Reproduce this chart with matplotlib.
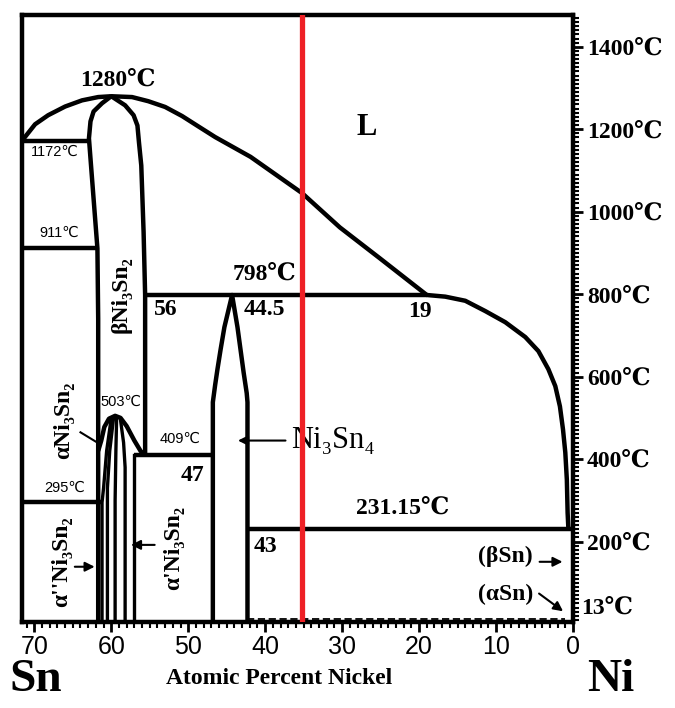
import matplotlib.pyplot as plt
import numpy as np

# --- phase boundaries (at.% Ni, temperature in C) ---
liq_left_x = [71.6, 69.9, 68.2, 66.0, 63.8, 61.7, 60.0, 57.3, 55.2, 53.0, 50.8,
              48.7, 46.5, 41.9, 35.2, 30.3, 25.1, 19.0]
liq_left_t = [1172, 1212, 1234, 1255, 1270, 1278, 1280, 1278, 1268, 1254, 1232,
              1207, 1181, 1133, 1045, 962, 887, 798]
liq_right_x = [19.0, 16.6, 14.0, 11.4, 8.8, 6.2, 4.5, 3.2, 2.3, 1.7, 1.3, 1.0,
               0.8, 0.7, 0.6]
liq_right_t = [798, 794, 784, 759, 732, 696, 662, 618, 577, 528, 472, 416,
               350, 270, 231]

beta_left_x = [60.0, 61.2, 62.3, 62.7, 62.9, 62.7, 62.3, 61.8, 61.7, 61.7]
beta_left_t = [1280, 1263, 1243, 1219, 1178, 1129, 1032, 911, 740, 5]
beta_right_x = [60.0, 58.2, 57.1, 56.6, 56.4, 56.1, 55.8, 55.6, 55.6]
beta_right_t = [1280, 1258, 1234, 1209, 1168, 1112, 951, 798, 409]

dome_x = [61.7, 61.3, 60.9, 60.3, 59.5, 58.8, 58.0, 57.0, 56.2, 55.6]
dome_t = [420, 445, 478, 498, 505, 500, 480, 445, 420, 409]
alpha_lines = [
    ([60.0, 60.6, 61.0, 61.2, 61.2], [500, 420, 330, 295, 5]),
    ([59.7, 60.2, 60.5, 60.5], [500, 420, 330, 5]),
    ([59.3, 59.4, 59.5, 59.5], [503, 420, 300, 5]),
    ([58.8, 58.4, 58.2, 58.2], [495, 440, 380, 5]),
    ([57.1, 57.1], [409, 5]),
]

ni3sn4_x = [46.8, 46.8, 46.5, 46.2, 45.8, 45.3, 44.3, 43.6, 43.2, 42.8, 42.4,
            42.3, 42.3]
ni3sn4_t = [5, 538, 580, 618, 665, 720, 798, 720, 665, 610, 560, 538, 5]

# isotherms: (temperature, x from, x to)
isotherms = [(1172, 71.6, 62.9), (911, 71.6, 61.8), (798, 55.6, 19.0),
             (409, 57.1, 46.8), (295, 71.6, 61.2), (231.15, 42.3, 0.0)]
dashed_t, dashed_x0, dashed_x1 = 13, 42.3, 1.0
red_x = 35.2

# labels
bold_labels = [("1280℃", 59.2, 1319), ("L", 26.8, 1204), ("798℃", 40.1, 849),
               ("56", 52.9, 762), ("44.5", 40.1, 762), ("19", 19.9, 759),
               ("47", 49.4, 360), ("231.15℃", 22.1, 282), ("43", 40.0, 188),
               ("(βSn)", 8.8, 163), ("(αSn)", 8.8, 71)]
small_labels = [("1172℃", 67.4, 1146), ("911℃", 66.8, 949), ("503℃", 58.7, 540),
                ("409℃", 51.0, 448), ("295℃", 66.1, 331)]
phase_labels = [("βNi₃Sn₂", 58.7, 798), ("αNi₃Sn₂", 66.2, 494),
                ("α''Ni₃Sn₂", 66.4, 151), ("α'Ni₃Sn₂", 51.9, 185)]
arrows = [((37.0, 445), (43.9, 445)), ((65.1, 139), (61.8, 139)),
          ((54.0, 192), (57.8, 192)), ((4.7, 151), (1.0, 151)),
          ((4.7, 78), (1.0, 27))]
leader = ((64.0, 465), (61.8, 440))

xticks = [70, 60, 50, 40, 30, 20, 10, 0]
yticks = [200, 400, 600, 800, 1000, 1200, 1400]

serif = ['Liberation Serif', 'DejaVu Serif']
sans = ['Liberation Sans Narrow', 'Liberation Sans', 'DejaVu Sans']

fig = plt.figure(figsize=(6.75, 7.08), dpi=100)
ax = fig.add_axes([22 / 675, (708 - 622) / 708, 551 / 675, 607 / 708])
ax.set_xlim(71.6, 0)
ax.set_ylim(5, 1477)

lw = 3.2
kw = dict(color='black', lw=lw, solid_joinstyle='round', solid_capstyle='butt')
ax.plot(liq_left_x, liq_left_t, **kw)
ax.plot(liq_right_x, liq_right_t, **kw)
ax.plot(beta_left_x, beta_left_t, **kw)
ax.plot(beta_right_x, beta_right_t, **kw)
ax.plot(dome_x, dome_t, **kw)
for xs, ts in alpha_lines:
    ax.plot(xs, ts, color='black', lw=2.4)
ax.plot(ni3sn4_x, ni3sn4_t, **kw)
for t, x0, x1 in isotherms:
    ax.plot([x0, x1], [t, t], **kw)
ax.plot([dashed_x0, dashed_x1], [dashed_t, dashed_t], color='black', lw=1.3,
        ls=(0, (4, 2)))
ax.axvline(red_x, color='#ee2025', lw=3.8, zorder=5)

for s, x, t in bold_labels:
    fs = 22 if s == "L" else 17
    ax.text(x, t, s, ha='center', va='center', fontsize=fs, fontweight='bold',
            family=serif)
for s, x, t in small_labels:
    ax.text(x, t, s, ha='center', va='center', fontsize=10.5, family=sans)
for s, x, t in phase_labels:
    ax.text(x, t, s, ha='center', va='center', fontsize=17, fontweight='bold',
            family=serif, rotation=90)
ax.text(36.6, 445, "Ni₃Sn₄", ha='left', va='center', fontsize=22,
        family=serif)
for (x0, t0), (x1, t1) in arrows:
    ax.annotate("", xy=(x1, t1), xytext=(x0, t0),
                arrowprops=dict(arrowstyle='-|>', color='black', lw=1.5,
                                mutation_scale=14))
ax.plot([leader[0][0], leader[1][0]], [leader[0][1], leader[1][1]],
        color='black', lw=1.5)

# axes styling
for sp in ax.spines.values():
    sp.set_linewidth(3.2)
ax.set_xticks(xticks)
ax.set_xticklabels([str(v) for v in xticks], family=sans, fontsize=18)
ax.set_xticks(np.arange(0, 72, 1), minor=True)
ax.yaxis.tick_right()
ax.set_yticks(yticks)
ax.set_yticklabels([f"{v}℃" for v in yticks], family=serif, fontsize=17,
                   fontweight='bold')
ax.set_yticks(np.arange(10, 1477, 10), minor=True)
ax.tick_params(axis='x', which='major', direction='out', length=7, width=2,
               pad=2)
ax.tick_params(axis='x', which='minor', direction='out', length=4, width=1.5)
ax.tick_params(axis='y', which='major', direction='out', length=7, width=2,
               pad=3, left=False, right=True)
ax.tick_params(axis='y', which='minor', direction='out', length=4, width=1.5,
               left=False, right=True)
ax.text(1.015, 39, "13℃", transform=ax.get_yaxis_transform(), ha='left',
        va='center', fontsize=17, fontweight='bold', family=serif)

fig.text(36 / 675, 1 - 680 / 708, "Sn", ha='center', va='center', fontsize=34,
         fontweight='bold', family=serif)
fig.text(611 / 675, 1 - 680 / 708, "Ni", ha='center', va='center', fontsize=34,
         fontweight='bold', family=serif)
fig.text(279 / 675, 1 - 679 / 708, "Atomic Percent Nickel", ha='center',
         va='center', fontsize=17, fontweight='bold', family=serif)

fig.savefig("out.png", dpi=100)
